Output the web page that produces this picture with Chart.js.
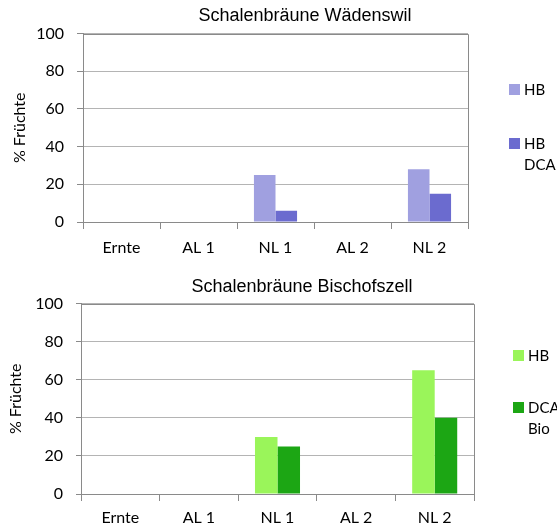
<!DOCTYPE html>
<html>
<head>
<meta charset="utf-8">
<script src="https://cdn.jsdelivr.net/npm/chart.js@4.4.1/dist/chart.umd.min.js"></script>
<style>
    html, body { margin: 0; padding: 0; background: #fff; overflow: hidden; }
    body { width: 557px; height: 529px; position: relative; overflow: hidden; }
    .box { position: absolute; }
    .legend { position: absolute; font-family: Lato, "Open Sans", sans-serif; font-size: 15px; color: #000; line-height: 21px; }
    .legend .item { position: absolute; white-space: nowrap; }
    .legend .sw { position: absolute; left: 0; width: 11px; height: 11px; }
    .legend .txt { position: absolute; left: 15px; top: -5px; }
</style>
</head>
<body>
<div class="box" id="box1" style="left:0; top:0; width:610px; height:265px;"><canvas id="chartWaedenswil"></canvas></div>
<div class="box" id="box2" style="left:0; top:265px; width:604px; height:264px;"><canvas id="chartBischofszell"></canvas></div>
<div class="legend" id="legend1" style="left:509px; top:84px;"></div>
<div class="legend" id="legend2" style="left:513px; top:350px;"></div>
<script>
// categories + values
const categories = ['Ernte', 'AL 1', 'NL 1', 'AL 2', 'NL 2'];
const yTicks = [0, 20, 40, 60, 80, 100];

const waedenswilHB = [0, 0, 25, 0, 28];
const waedenswilDCA = [0, 0, 6, 0, 15];
const bischofszellHB = [0, 0, 30, 0, 65];
const bischofszellDCA = [0, 0, 25, 0, 40];

const seriesTop = ['HB', 'HB\nDCA'];
const seriesBottom = ['HB', 'DCA\nBio'];

// plot area border (Excel style frame)
const frame = {
    id: 'frame',
    afterDatasetsDraw(chart) {
        const a = chart.chartArea;
        const c = chart.ctx;
        const t = Math.round(a.top) + 0.5;
        const r = Math.round(a.right) + 0.5;
        c.save();
        c.strokeStyle = '#8a8a8a';
        c.lineWidth = 1;
        c.beginPath();
        c.moveTo(a.left, t);
        c.lineTo(r, t);
        c.lineTo(r, a.bottom);
        c.stroke();
        c.restore();
    }
};

function makeChart(id, cfg) {
    const ctx = document.getElementById(id);
    return new Chart(ctx, {
        type: 'bar',
        data: {
            labels: categories,
            datasets: [
                { label: cfg.labels[0], data: cfg.hb, backgroundColor: cfg.colors[0], borderWidth: 0 },
                { label: cfg.labels[1], data: cfg.dca, backgroundColor: cfg.colors[1], borderWidth: 0 }
            ]
        },
        options: {
            responsive: true,
            maintainAspectRatio: false,
            animation: false,
            devicePixelRatio: 1,
            layout: { padding: 0 },
            datasets: { bar: { categoryPercentage: cfg.catPct, barPercentage: 1 } },
            plugins: {
                legend: { display: false },
                tooltip: { enabled: false },
                title: {
                    display: true,
                    text: cfg.title,
                    color: '#000',
                    font: { family: '"Liberation Sans", Arial, sans-serif', size: 18, weight: 'normal', lineHeight: 1.2 },
                    padding: cfg.titlePad
                }
            },
            scales: {
                x: {
                    afterFit: function (scale) { scale.height = cfg.xHeight; },
                    grid: { display: true, drawOnChartArea: false, tickLength: 7, color: '#8a8a8a', offset: true },
                    border: { color: '#8a8a8a' },
                    ticks: {
                        color: '#000',
                        padding: cfg.xLabelPad,
                        maxRotation: 0,
                        font: { family: 'Lato, "Open Sans", sans-serif', size: 16, lineHeight: 1.2 }
                    }
                },
                y: {
                    min: 0,
                    max: 100,
                    afterFit: function (scale) { scale.width = cfg.yWidth; },
                    afterBuildTicks: function (scale) { scale.ticks = yTicks.map(v => ({ value: v })); },
                    grid: { color: '#b4b4b4', tickColor: '#8a8a8a', tickLength: cfg.yTick },
                    border: { color: '#8a8a8a' },
                    ticks: {
                        color: '#000',
                        padding: 13,
                        font: { family: 'Lato, "Open Sans", sans-serif', size: 16 }
                    },
                    title: {
                        display: true,
                        text: '% Früchte',
                        color: '#000',
                        padding: { top: cfg.yTitlePad, bottom: 0 },
                        font: { family: 'Lato, "Open Sans", sans-serif', size: 16, lineHeight: 1.2 }
                    }
                },
                // empty axis on the right: room for the legend, keeps the title centred like in Excel
                yRight: {
                    type: 'linear',
                    position: 'right',
                    min: 0,
                    max: 100,
                    afterFit: function (scale) { scale.width = cfg.rightSpace; },
                    ticks: { display: false },
                    grid: { display: false },
                    border: { display: false }
                }
            }
        },
        plugins: [frame]
    });
}

function buildLegend(elId, chart, gap) {
    const el = document.getElementById(elId);
    chart.data.datasets.forEach((ds, i) => {
        const item = document.createElement('div');
        item.className = 'item';
        item.style.top = (i * gap) + 'px';
        item.innerHTML = `<div class="sw" style="background:${ds.backgroundColor}"></div>` +
            `<div class="txt">${ds.label.split('\n').join('<br>')}</div>`;
        el.appendChild(item);
    });
}

window.addEventListener('load', function () {
    const top = makeChart('chartWaedenswil', {
        title: 'Schalenbräune Wädenswil',
        titlePad: { top: 5, bottom: 7 },
        labels: seriesTop,
        hb: waedenswilHB,
        dca: waedenswilDCA,
        colors: ['#a0a0e0', '#6b6bcf'],
        catPct: 0.56,
        yWidth: 83,
        yTick: 6,
        xHeight: 43,
        xLabelPad: 9,
        rightSpace: 142,
        yTitlePad: 10
    });
    const bottom = makeChart('chartBischofszell', {
        title: 'Schalenbräune Bischofszell',
        titlePad: { top: 11, bottom: 6 },
        labels: seriesBottom,
        hb: bischofszellHB,
        dca: bischofszellDCA,
        colors: ['#9af55a', '#1ca614'],
        catPct: 0.573,
        yWidth: 81,
        yTick: 5,
        xHeight: 35,
        xLabelPad: 7,
        rightSpace: 130,
        yTitlePad: 6
    });
    buildLegend('legend1', top, 54);
    buildLegend('legend2', bottom, 52);
});
</script>
</body>
</html>
